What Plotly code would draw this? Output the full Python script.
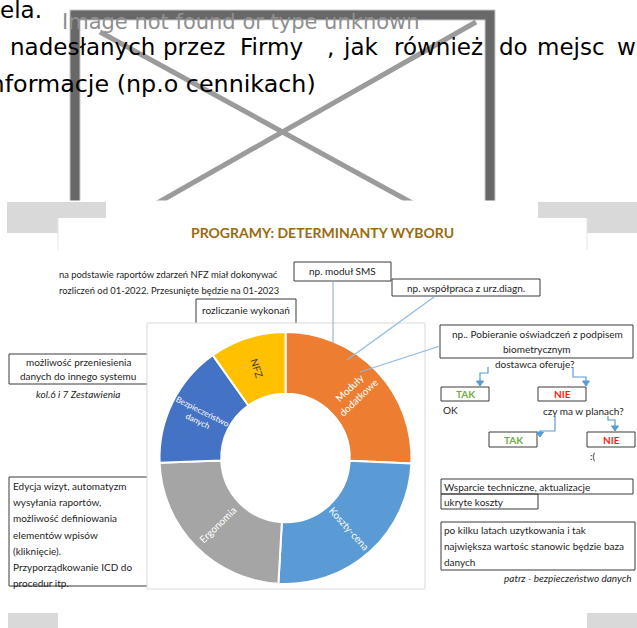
import plotly.graph_objects as go

W, H = 637, 628

# donut data (clockwise from 12 o'clock)
segments = ["Moduły dodatkowe", "Koszty-cena", "Ergonomia", "Bezpieczeństwo danych", "NFZ"]
segment_text = ["Moduły<br>dodatkowe", "Koszty-cena", "Ergonomia", "Bezpieczeństwo<br>danych", "NFZ"]
shares = [25.7, 25.2, 23.5, 15.8, 9.8]
segment_colors = ["#ED7D31", "#5B9BD5", "#A5A5A5", "#4472C4", "#FFC000"]
label_colors = ["white", "white", "white", "white", "#3a3a3a"]

# text around the chart
doc_first = "ela."
doc_words = ["nadesłanych", "przez", "Firmy", ",", "jak", "również", "do", "mejsc", "w"]
doc_last = "informacje (np.o cennikach)"
broken_img_text = "Image not found or type unknown"
title = "PROGRAMY: DETERMINANTY WYBORU"
nfz_note = ["na podstawie raportów zdarzeń NFZ miał dokonywać",
            "rozliczeń od 01-2022. Przesunięte będzie na 01-2023"]
sms_note = "np. moduł SMS"
diag_note = "np. współpraca z urz.diagn."
nfz_box = "rozliczanie wykonań"
transfer_note = ["możliwość przeniesienia", "danych do innego systemu"]
transfer_ref = "kol.6 i 7 Zestawienia"
ergo_note = ["Edycja wizyt, automatyzm", "wysyłania raportów,", "możliwość definiowania",
             "elementów wpisów", "(kliknięcie).", "Przyporządkowanie ICD do", "procedur itp."]
bio_note = ["np.. Pobieranie oświadczeń z podpisem", "biometrycznym"]
question1 = "dostawca oferuje?"
question2 = "czy ma w planach?"
yes_no = ["TAK", "NIE"]
answers = ["OK", ":("]
cost_note = ["Wsparcie techniczne, aktualizacje", "ukryte koszty"]
data_note = ["po kilku latach uzytkowania i tak", "największa wartośc stanowic będzie baza", "danych"]
data_ref = "patrz - bezpieczeństwo danych"

BLUE = "#5B9BD5"
LINE = "#3a3a3a"
TXT = "#1e1e1e"
GREEN = "#70AD47"
RED = "#FF1A1A"


def px(x):
    return x / W


def py(y):
    return 1 - y / H


shapes = []
annotations = []


def rect(x0, y0, x1, y1, line=LINE, width=1, fill="rgba(0,0,0,0)", layer="below"):
    shapes.append(dict(type="rect", xref="paper", yref="paper",
                       x0=px(x0), y0=py(y0), x1=px(x1), y1=py(y1),
                       line=dict(color=line, width=width), fillcolor=fill, layer=layer))


def path(points, color, width=1, fill=None, layer="above"):
    d = "M " + " L ".join(f"{px(x):.5f},{py(y):.5f}" for x, y in points)
    if fill:
        d += " Z"
    shapes.append(dict(type="path", xref="paper", yref="paper", path=d,
                       line=dict(color=color, width=width),
                       fillcolor=fill or "rgba(0,0,0,0)", layer=layer))


def text(x, y, s, size=10, color=TXT, anchor="left", family="Lato"):
    annotations.append(dict(xref="paper", yref="paper", x=px(x), y=py(y), text=s,
                            showarrow=False, xanchor=anchor, yanchor="middle",
                            borderpad=0, font=dict(size=size, color=color, family=family)))


def arrow(points, color=BLUE):
    # elbow connector ending with a small arrow head pointing down
    path(points, color, 1.2)
    x, y = points[-1]
    path([(x - 3.5, y - 5), (x + 3.5, y - 5), (x, y)], color, 1, fill=color)


# ---- document part: broken image placeholder and text ----
rect(75, 15, 490, 262, line="#c8c8c8", width=11)
rect(75, 15, 490, 262, line="#686868", width=9)
path([(100, 32), (476, 238)], "#9b9b9b", 5, layer="below")
path([(476, 22), (87, 243)], "#9b9b9b", 5, layer="below")
rect(-2, 200.5, W + 2, H + 2, line="rgba(0,0,0,0)", width=0, fill="white")

DOC_FONT = "DejaVu Sans"
text(-1, 10, doc_first, size=23, color="black", family=DOC_FONT)
# justified line: words placed where the reference puts them
word_x = [9, 162, 239, 326, 342, 393, 498, 536, 616]
for w, x in zip(doc_words, word_x):
    text(x, 47, w, size=23, color="black", family=DOC_FONT)
text(317, 84, doc_last, size=23.8, color="black", anchor="right", family=DOC_FONT)
text(61, 22, broken_img_text, size=21, color="#8f8f8f", family=DOC_FONT)

# ---- slide part ----
rect(7, 202, 106, 233, line="rgba(0,0,0,0)", width=0, fill="#d9d9d9")
rect(538, 202, 640, 233, line="rgba(0,0,0,0)", width=0, fill="#d9d9d9")
rect(8, 613, 58, 640, line="rgba(0,0,0,0)", width=0, fill="#d9d9d9")
rect(587, 613, 640, 640, line="rgba(0,0,0,0)", width=0, fill="#d9d9d9")
rect(58, 218, 587, 606, line="rgba(0,0,0,0)", width=0, fill="white")
path([(58, 218), (58, 250)], "#e4e4e4", 1, layer="below")
path([(587, 218), (587, 250)], "#e4e4e4", 1, layer="below")

text(322, 233, "<b>" + title + "</b>", size=14, color="#9C6A0E", anchor="center")

text(58, 274, nfz_note[0], size=9.4)
text(58, 290, nfz_note[1], size=9.4)

rect(294, 262, 391, 281)
text(342.5, 271, sms_note, size=10, anchor="center")
rect(392, 279, 540, 296)
text(466, 287.5, diag_note, size=10, anchor="center")
rect(196, 299, 296, 340)
text(246, 310, nfz_box, size=10, anchor="center")

rect(9, 354, 170, 384)
text(78, 362, transfer_note[0], size=10, anchor="center")
text(78, 376, transfer_note[1], size=10, anchor="center")
text(78, 394, "<i>" + transfer_ref + "</i>", size=10, anchor="center")

rect(9, 477, 170, 586)
for i, line in enumerate(ergo_note):
    text(12, 486 + i * 16.2, line, size=10)

# chart area frame
rect(147, 323, 425, 589, line="#d9d9d9", width=1, fill="white")

# right side notes
rect(440, 325, 633, 358)
text(537, 334, bio_note[0], size=10, anchor="center")
text(537, 349, bio_note[1], size=10, anchor="center")
text(535, 364, question1, size=10, anchor="center")

rect(441, 387, 489, 401)
text(465, 394, "<b>" + yes_no[0] + "</b>", size=10, color=GREEN, anchor="center")
rect(538, 387, 586, 401)
text(562, 394, "<b>" + yes_no[1] + "</b>", size=10, color=RED, anchor="center")
text(442, 410, answers[0], size=10)
text(583, 411, question2, size=10, anchor="center")
rect(489, 432, 537, 447)
text(513, 440, "<b>" + yes_no[0] + "</b>", size=10, color=GREEN, anchor="center")
rect(587, 432, 635, 447)
text(611, 440, "<b>" + yes_no[1] + "</b>", size=10, color=RED, anchor="center")
text(589, 456, answers[1], size=10)

arrow([(488, 367), (488, 373), (480, 373), (480, 386)])
arrow([(573, 367), (573, 377), (586, 377), (586, 386)])
arrow([(555, 416), (555, 431), (540, 431), (540, 437)])
arrow([(608, 416), (608, 420), (615, 420), (615, 431)])

rect(441, 479, 633, 494)
text(443, 486.5, cost_note[0], size=10)
rect(441, 494, 538, 509)
text(443, 501.5, cost_note[1], size=10)

rect(441, 522, 635, 570)
for i, line in enumerate(data_note):
    text(443, 530 + i * 16, line, size=10)
text(633, 578, "<i>" + data_ref + "</i>", size=10, anchor="right")

# connectors from notes to the donut
path([(333, 281), (333, 343)], "#8fb9e2", 1.2)
path([(434, 297), (347, 360)], "#8fb9e2", 1.2)
path([(440, 346), (360, 372)], "#8fb9e2", 1.2)

# ---- donut ----
cx, cy, r = 285.5, 458, 126
fig = go.Figure(go.Pie(
    labels=segments,
    values=shares,
    text=segment_text,
    textinfo="text",
    textposition="inside",
    insidetextorientation="radial",
    insidetextfont=dict(size=10, color=label_colors, family="Lato"),
    marker=dict(colors=segment_colors, line=dict(color="white", width=2)),
    hole=0.51,
    sort=False,
    direction="clockwise",
    rotation=0,
    hoverinfo="skip",
    showlegend=False,
    domain=dict(x=[px(cx - r), px(cx + r)], y=[py(cy + r), py(cy - r)]),
))

fig.update_layout(
    width=W, height=H,
    margin=dict(l=0, r=0, t=0, b=0),
    paper_bgcolor="white",
    plot_bgcolor="white",
    font=dict(family="Lato", color=TXT),
    shapes=shapes,
    annotations=annotations,
)

fig.write_html("out.html", config={"displayModeBar": False, "staticPlot": True},
               post_script="document.body.style.margin='0';document.body.style.overflow='hidden';")
